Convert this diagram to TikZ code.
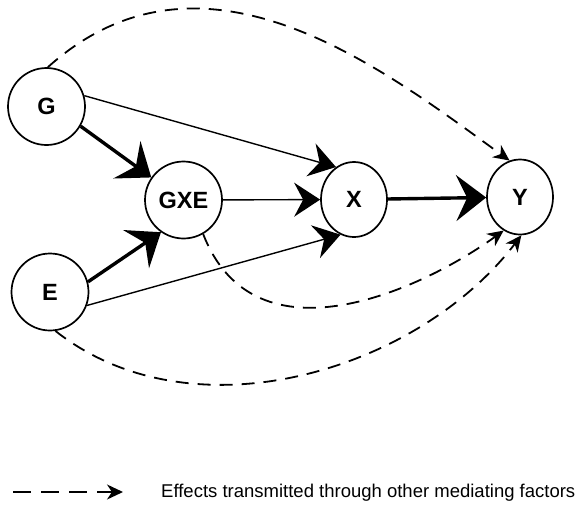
\documentclass[tikz,border=0pt]{standalone}
\usepackage{fontspec}
\setmainfont{Liberation Sans}
\usetikzlibrary{arrows.meta,shapes.geometric}
\begin{document}
\begin{tikzpicture}[x=1pt,y=-1pt,
  var/.style={draw,line width=1.7pt,circle,minimum size=77pt,inner sep=0pt,
    font=\fontsize{23.5}{23.5}\selectfont\bfseries},
  varel/.style={draw,line width=1.7pt,ellipse,minimum width=66pt,minimum height=75pt,inner sep=0pt,
    font=\fontsize{23.5}{23.5}\selectfont\bfseries},
  thickarrow/.style={line width=3.4pt,-{Stealth[length=30pt 0 0,width=46pt 0 0,inset=11pt 0 0]}},
  thinarrow/.style={line width=1.4pt,-{Stealth[length=26pt 0 0,width=34pt 0 0,inset=9pt 0 0]}},
  dasharrow/.style={line width=1.8pt,dash pattern=on 13pt off 9pt,-{Stealth[length=16pt 0 0,width=15pt 0 0,inset=5pt 0 0]}},
  legtext/.style={anchor=base west,inner sep=0pt,font=\fontsize{18.5}{20}\selectfont}]
\fill[white] (0,0) rectangle (575,504);
\useasboundingbox (0,0) rectangle (575,504);

\node[var] (G) at (46.5,106.5) {G};
\node[var] (GXE) at (183.5,200) {GXE};
\node[var] (E) at (50,292) {E};
\node[varel] (X) at (354,199.5) {X};
\node[varel] (Y) at (520,197) {Y};

\draw[thickarrow] (G.-30) -- (GXE.145);
\draw[thickarrow] (E.15) -- (GXE.-125);
\draw[thinarrow] (G.16) -- (X.119);
\draw[thinarrow] (GXE) -- (X);
\draw[thinarrow] (E.-20) -- (X.-111);
\draw[thickarrow] (X) -- (Y);

\draw[dasharrow] (G.88) .. controls (203,-72) and (383,69) .. (Y.106);
\draw[dasharrow] (GXE.-60) .. controls (255.5,368.5) and (424.5,287.8) .. (Y.-116);
\draw[dasharrow] (E.-82) .. controls (193.5,439.8) and (418.4,370.1) .. (Y.-88);

\coordinate (L1) at (13,492);
\coordinate (L2) at (123,492);
\draw[dasharrow,dash pattern=on 18pt off 10pt] (L1) -- (L2);
\node[legtext] (leg) at (161,497) {Effects transmitted through other mediating factors};
\end{tikzpicture}
\end{document}
